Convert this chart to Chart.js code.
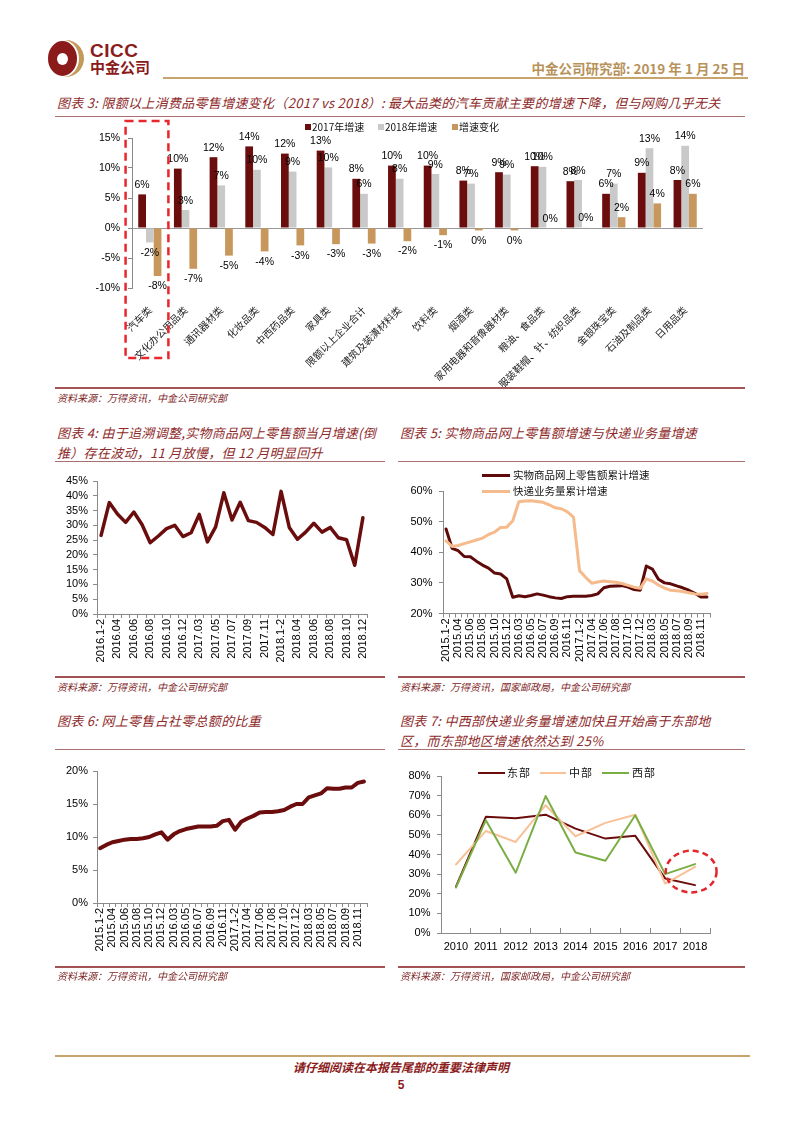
<!DOCTYPE html>
<html lang="zh-CN">
<head>
<meta charset="utf-8">
<title>中金公司研究部</title>
<script src="https://cdn.jsdelivr.net/npm/chart.js@4.4.1/dist/chart.umd.min.js"></script>
<style>
html,body{margin:0;padding:0;background:#fff;}
#page{position:relative;width:802px;height:1133px;overflow:hidden;background:#fff;font-family:"Noto Sans CJK SC","Liberation Sans",sans-serif;}
.t{position:absolute;white-space:nowrap;}
.title{color:#8e2a2a;font-style:italic;font-size:13px;line-height:20px;letter-spacing:0.3px;}
.src{color:#7d2424;font-style:italic;font-size:10px;line-height:14px;}
.rule{position:absolute;height:0;border-top:1px solid #a87070;}
.srule{position:absolute;height:0;border-top:2px solid #a35353;}
canvas{position:absolute;}
.leg{position:absolute;white-space:nowrap;color:#111;}
</style>
</head>
<body>
<div id="page">
  <!-- header -->
  <div class="t" style="left:48px;top:40px;width:36px;height:37px;border-radius:50%;background:#c49a5b;"></div>
  <div class="t" style="left:48px;top:40px;width:31px;height:37px;border-radius:50%;background:#fff;"></div>
  <div class="t" style="left:48px;top:41px;width:29px;height:35px;border-radius:50%;background:#8b1b1b;"></div>
  <div class="t" style="left:57px;top:53px;width:11px;height:12px;border-radius:50%;background:#fff;"></div>
  <div class="t" style="left:90px;top:40px;font:bold 19px 'Liberation Sans',sans-serif;color:#8b1b1b;letter-spacing:0.5px;">CICC</div>
  <div class="t" style="left:90px;top:58px;font-weight:bold;font-size:15px;line-height:18px;color:#8b1b1b;">中金公司</div>
  <div class="t" style="right:57px;top:59px;font-weight:bold;font-size:13.5px;line-height:18px;color:#b8925a;">中金公司研究部: 2019 年 1 月 25 日</div>
  <div class="t" style="left:163px;top:77px;width:585px;height:2px;background:#c8a46e;"></div>

  <!-- chart 3 -->
  <div class="t title" style="left:57px;top:93px;">图表 3: 限额以上消费品零售增速变化（2017 vs 2018）: 最大品类的汽车贡献主要的增速下降，但与网购几乎无关</div>
  <div class="rule" style="left:55px;top:116px;width:690px;"></div>
  <canvas id="c3" width="690" height="270" style="left:55px;top:117px;"></canvas>
  <div id="leg3"></div>
  <div class="srule" style="left:55px;top:387px;width:690px;"></div>
  <div class="t src" style="left:57px;top:391px;">资料来源：万得资讯，中金公司研究部</div>

  <!-- chart 4 -->
  <div class="t title" style="left:57px;top:423px;">图表 4: 由于追溯调整,实物商品网上零售额当月增速(倒<br>推）存在波动，11 月放慢，但 12 月明显回升</div>
  <div class="rule" style="left:55px;top:461px;width:330px;"></div>
  <canvas id="c4" width="330" height="210" style="left:55px;top:465px;"></canvas>
  <div class="srule" style="left:55px;top:676px;width:330px;"></div>
  <div class="t src" style="left:57px;top:680px;">资料来源：万得资讯，中金公司研究部</div>

  <!-- chart 5 -->
  <div class="t title" style="left:400px;top:423px;">图表 5: 实物商品网上零售额增速与快递业务量增速</div>
  <div class="rule" style="left:398px;top:461px;width:347px;"></div>
  <canvas id="c5" width="340" height="210" style="left:395px;top:465px;"></canvas>
  <div id="leg5"></div>
  <div class="srule" style="left:398px;top:676px;width:347px;"></div>
  <div class="t src" style="left:400px;top:680px;">资料来源：万得资讯，国家邮政局，中金公司研究部</div>

  <!-- chart 6 -->
  <div class="t title" style="left:57px;top:711px;">图表 6: 网上零售占社零总额的比重</div>
  <div class="rule" style="left:55px;top:749px;width:330px;"></div>
  <canvas id="c6" width="330" height="215" style="left:55px;top:752px;"></canvas>
  <div class="srule" style="left:55px;top:966px;width:330px;"></div>
  <div class="t src" style="left:57px;top:969px;">资料来源：万得资讯，中金公司研究部</div>

  <!-- chart 7 -->
  <div class="t title" style="left:400px;top:711px;">图表 7: 中西部快递业务量增速加快且开始高于东部地<br>区，而东部地区增速依然达到 25%</div>
  <div class="rule" style="left:398px;top:749px;width:347px;"></div>
  <canvas id="c7" width="340" height="215" style="left:395px;top:752px;"></canvas>
  <div id="leg7"></div>
  <div class="srule" style="left:398px;top:966px;width:347px;"></div>
  <div class="t src" style="left:400px;top:969px;">资料来源：万得资讯，国家邮政局，中金公司研究部</div>

  <!-- footer -->
  <div class="t" style="left:55px;top:1055px;width:695px;height:2px;background:#c8a46e;"></div>
  <div class="t" style="left:0;width:802px;top:1059px;text-align:center;font-weight:bold;font-style:italic;font-size:12px;line-height:16px;color:#8b1b1b;">请仔细阅读在本报告尾部的重要法律声明</div>
  <div class="t" style="left:0;width:802px;top:1078px;text-align:center;font:bold 12px 'Liberation Sans',sans-serif;color:#8b1b1b;">5</div>
</div>

<script>
// ---------------- data ----------------
const cat3 = ['汽车类','文化办公用品类','通讯器材类','化妆品类','中西药品类','家具类','限额以上企业合计','建筑及装潢材料类','饮料类','烟酒类','家用电器和音像器材类','粮油、食品类','服装鞋帽、针、纺织品类','金银珠宝类','石油及制品类','日用品类'];
const growth2017   = [5.6, 9.9, 11.8, 13.6, 12.4, 12.9, 8.2, 10.4, 10.4, 7.9, 9.3, 10.3, 7.8, 5.7, 9.2, 8.0];
const growth2018   = [-2.4, 3.0, 7.1, 9.7, 9.4, 10.1, 5.7, 8.2, 9.0, 7.4, 8.9, 10.2, 8.0, 7.4, 13.3, 13.7];
const growthChange = [-8.0, -6.8, -4.6, -3.9, -2.9, -2.7, -2.6, -2.2, -1.2, -0.4, -0.4, 0.0, 0.1, 1.8, 4.1, 5.7];
const series3 = ['2017年增速','2018年增速','增速变化'];

const months4 = ['2016.1-2','2016.03','2016.04','2016.05','2016.06','2016.07','2016.08','2016.09','2016.10','2016.11','2016.12',
                 '2017.1-2','2017.03','2017.04','2017.05','2017.06','2017.07','2017.08','2017.09','2017.10','2017.11','2017.12',
                 '2018.1-2','2018.03','2018.04','2018.05','2018.06','2018.07','2018.08','2018.09','2018.10','2018.11','2018.12'];
const onlineMonthly4 = [26.6, 37.7, 33.8, 31.0, 34.5, 30.3, 24.1, 26.4, 28.9, 30.0, 26.2,
                        27.5, 33.7, 24.4, 29.5, 41.0, 31.8, 37.8, 31.6, 31.0, 29.3, 26.9,
                        41.5, 29.3, 25.3, 27.7, 30.7, 27.7, 29.3, 25.8, 25.1, 16.5, 32.6];
const series4 = '实物商品网上零售额当月增速';

const months5 = ['2015.1-2','2015.03','2015.04','2015.05','2015.06','2015.07','2015.08','2015.09','2015.10','2015.11','2015.12',
                 '2016.1-2','2016.03','2016.04','2016.05','2016.06','2016.07','2016.08','2016.09','2016.10','2016.11','2016.12',
                 '2017.1-2','2017.03','2017.04','2017.05','2017.06','2017.07','2017.08','2017.09','2017.10','2017.11','2017.12',
                 '2018.1-2','2018.03','2018.04','2018.05','2018.06','2018.07','2018.08','2018.09','2018.10','2018.11','2018.12'];
const onlineCum5  = [47.6, 41.3, 40.5, 38.6, 38.5, 37.1, 35.8, 34.8, 33.2, 32.9, 31.3,
                     25.3, 25.8, 25.5, 25.9, 26.4, 26.0, 25.5, 25.1, 24.9, 25.5, 25.6,
                     25.6, 25.6, 25.9, 26.4, 28.4, 28.9, 29.0, 29.1, 28.6, 27.8, 27.6,
                     35.5, 34.5, 31.2, 30.0, 29.7, 29.0, 28.4, 27.6, 26.6, 25.4, 25.4];
const expressCum5 = [43.7, 41.9, 42.2, 42.8, 43.4, 44.0, 44.6, 45.8, 46.6, 48.1, 48.2,
                     50.3, 56.5, 56.7, 56.8, 56.6, 56.3, 55.5, 54.5, 54.2, 53.2, 51.5,
                     34.0, 31.8, 29.9, 30.3, 30.6, 30.4, 30.2, 29.8, 29.2, 28.6, 28.2,
                     31.3, 30.6, 29.3, 28.3, 27.6, 27.4, 27.2, 26.8, 26.4, 26.3, 26.5];
const series5 = ['实物商品网上零售额累计增速','快递业务量累计增速'];

const onlineShare6 = [8.3, 8.8, 9.2, 9.4, 9.6, 9.7, 9.7, 9.8, 10.0, 10.4, 10.7,
                      9.6, 10.4, 10.9, 11.2, 11.4, 11.6, 11.6, 11.6, 11.7, 12.4, 12.6,
                      11.1, 12.3, 12.8, 13.2, 13.7, 13.8, 13.8, 13.9, 14.1, 14.6, 15.0,
                      15.0, 16.0, 16.3, 16.6, 17.4, 17.3, 17.3, 17.5, 17.5, 18.2, 18.4];
const series6 = '网上零售占社零总额的比重';

const years7   = ['2010','2011','2012','2013','2014','2015','2016','2017','2018'];
const east7    = [23.6, 59.2, 58.5, 60.3, 53.2, 48.1, 49.5, 27.8, 24.4];
const central7 = [34.9, 52.0, 46.4, 65.1, 49.3, 56.1, 60.3, 25.2, 33.7];
const west7    = [23.2, 57.5, 30.7, 69.8, 41.0, 36.8, 60.0, 30.0, 35.1];
const series7  = ['东部','中部','西部'];

// ---------------- styles ----------------
const C_DARK = '#6b0d0d', C_GRAY = '#c9c9c9', C_TAN = '#c8975c', C_PEACH = '#f6bb8c', C_GREEN = '#7aae45';
const AXIS = '#8a8a8a';

Chart.defaults.font.family = '"Liberation Sans","Noto Sans CJK SC",sans-serif';
Chart.defaults.color = '#000';
Chart.defaults.animation = false;
Chart.defaults.responsive = false;
Chart.defaults.plugins.legend.display = false;
Chart.defaults.plugins.tooltip.enabled = false;

// value labels on bars
const barValueLabels = {
  id: 'barValueLabels',
  afterDatasetsDraw(chart) {
    const ctx = chart.ctx;
    ctx.save();
    ctx.font = '10.5px "Liberation Sans", sans-serif';
    ctx.fillStyle = '#000';
    ctx.textAlign = 'center';
    chart.data.datasets.forEach((ds, di) => {
      chart.getDatasetMeta(di).data.forEach((bar, i) => {
        const v = ds.data[i];
        const txt = Math.round(v) + '%';
        if (v >= 0) { ctx.textBaseline = 'bottom'; ctx.fillText(txt, bar.x, bar.y - 4); }
        else { ctx.textBaseline = 'top'; ctx.fillText(txt, bar.x, bar.y + 5); }
      });
    });
    ctx.restore();
  }
};
// dashed box around the first category
const highlightBox = {
  id: 'highlightBox',
  afterDraw(chart) {
    const x = chart.scales.x, y = chart.scales.y, ctx = chart.ctx;
    const c0 = x.getPixelForValue(0), cw = x.getPixelForValue(1) - c0;
    const top = y.getPixelForValue(y.max) - 17, bottom = y.getPixelForValue(y.min) + 70;
    ctx.save();
    ctx.strokeStyle = '#e8262b'; ctx.lineWidth = 2.5; ctx.setLineDash([8, 5]);
    ctx.strokeRect(c0 - 0.68 * cw, top, 1.2 * cw, bottom - top);
    ctx.restore();
  }
};
// dashed ellipse around 2017-2018
const highlightEllipse = {
  id: 'highlightEllipse',
  afterDraw(chart) {
    const x = chart.scales.x, y = chart.scales.y, ctx = chart.ctx;
    const p7 = x.getPixelForValue(7), cw = x.getPixelForValue(8) - p7;
    const cx = p7 + 0.87 * cw, cy = y.getPixelForValue(31.3);
    const rx = 0.85 * cw, ry = y.getPixelForValue(20.7) - cy;
    ctx.save();
    ctx.strokeStyle = '#e3262b'; ctx.lineWidth = 2.5; ctx.setLineDash([6, 4]);
    ctx.beginPath(); ctx.ellipse(cx, cy, rx, ry, 0, 0, Math.PI * 2); ctx.stroke();
    ctx.restore();
  }
};

// ---------------- chart 3 ----------------
new Chart(document.getElementById('c3'), {
  type: 'bar',
  data: {
    labels: cat3,
    datasets: [
      { label: series3[0], data: growth2017, backgroundColor: C_DARK },
      { label: series3[1], data: growth2018, backgroundColor: C_GRAY },
      { label: series3[2], data: growthChange, backgroundColor: C_TAN }
    ]
  },
  options: {
    layout: { padding: { left: 0, right: 42, top: 21, bottom: 0 } },
    datasets: { bar: { categoryPercentage: 0.65, barPercentage: 1.0 } },
    scales: {
      x: {
        grid: { display: false }, border: { display: false },
        ticks: { autoSkip: false, minRotation: 45, maxRotation: 45, padding: 8, color: '#222',
                 font: { size: 10, family: '"Noto Sans CJK SC",sans-serif' } },
        afterFit: s => { s.height = 99; }
      },
      y: {
        min: -10, max: 15,
        ticks: { stepSize: 5, autoSkip: false, callback: v => v + '%', padding: 8, font: { size: 10.5 } },
        grid: { color: c => (c.tick && c.tick.value === 0) ? '#9a9a9a' : 'rgba(0,0,0,0)', tickColor: AXIS, tickLength: 4 },
        border: { display: true, color: AXIS },
        afterFit: s => { s.width = 77; }
      }
    }
  },
  plugins: [barValueLabels, highlightBox]
});

// ---------------- line charts helper ----------------
function lineChart(id, labels, datasets, yMin, yMax, yStep, g, extra) {
  return new Chart(document.getElementById(id), {
    type: 'line',
    data: {
      labels: labels,
      datasets: datasets.map(d => Object.assign({ pointRadius: 0, tension: 0, fill: false,
        borderJoinStyle: 'round', borderCapStyle: 'round' }, d))
    },
    options: {
      layout: { padding: { left: 0, top: g.top, right: g.right, bottom: 0 } },
      scales: {
        x: {
          offset: true,
          grid: { offset: true, drawOnChartArea: false, tickLength: g.xTick, color: AXIS },
          border: { color: AXIS },
          ticks: { autoSkip: false, minRotation: g.rot, maxRotation: g.rot, padding: g.xPad,
                   font: { size: 11 }, color: '#000',
                   callback: (v, i) => (i % g.every === 0 ? labels[i] : '') },
          afterFit: s => { s.height = g.xH; }
        },
        y: {
          min: yMin, max: yMax,
          ticks: { stepSize: yStep, autoSkip: false, callback: v => v + '%', font: { size: 11 }, color: '#000', padding: g.yPad },
          grid: { drawOnChartArea: false, tickLength: 4, color: AXIS },
          border: { color: AXIS },
          afterFit: s => { s.width = g.yW; }
        }
      }
    },
    plugins: extra || []
  });
}

// chart 4
lineChart('c4', months4, [
  { label: series4, data: onlineMonthly4, borderColor: C_DARK, borderWidth: 3.5 }
], 0, 45, 5, { top: 16, right: 18, xH: 61, yW: 42, yPad: 5, rot: 90, xTick: 4, xPad: 1, every: 2 });

// chart 5
lineChart('c5', months5, [
  { label: series5[0], data: onlineCum5, borderColor: '#5e0a0a', borderWidth: 3, order: 2 },
  { label: series5[1], data: expressCum5, borderColor: C_PEACH, borderWidth: 3, order: 1 }
], 20, 60, 10, { top: 26, right: 25, xH: 61.5, yW: 48, yPad: 6.5, rot: 90, xTick: 4, xPad: 1, every: 2 });

// chart 6
lineChart('c6', months5, [
  { label: series6, data: onlineShare6, borderColor: C_DARK, borderWidth: 4 }
], 0, 20, 5, { top: 19, right: 18, xH: 64, yW: 42, yPad: 5, rot: 90, xTick: 4, xPad: 1, every: 2 });

// chart 7
lineChart('c7', years7, [
  { label: series7[0], data: east7, borderColor: C_DARK, borderWidth: 2, order: 3 },
  { label: series7[1], data: central7, borderColor: '#f8c197', borderWidth: 2, order: 2 },
  { label: series7[2], data: west7, borderColor: C_GREEN, borderWidth: 2, order: 1 }
], 0, 80, 10, { top: 24, right: 25, xH: 34, yW: 46, yPad: 6.5, rot: 0, xTick: -5, xPad: 12, every: 1 }, [highlightEllipse]);

// ---------------- HTML legends ----------------
function addLegend(host, items) {
  const el = document.getElementById(host);
  items.forEach(it => {
    const mark = document.createElement('div');
    mark.className = 'leg';
    mark.style.cssText = `left:${it.mx}px;top:${it.my}px;width:${it.mw}px;height:${it.mh}px;background:${it.color};`;
    el.appendChild(mark);
    const tx = document.createElement('div');
    tx.className = 'leg';
    tx.style.cssText = `left:${it.tx}px;top:${it.ty}px;font-size:${it.fs}px;line-height:${it.fs + 4}px;letter-spacing:${it.ls || 0}px;`;
    tx.textContent = it.text;
    el.appendChild(tx);
  });
}
addLegend('leg3', [
  { text: series3[0], color: C_DARK, mx: 305, my: 124, mw: 6, mh: 6, tx: 312, ty: 120, fs: 10 },
  { text: series3[1], color: C_GRAY, mx: 378, my: 124, mw: 6, mh: 6, tx: 385, ty: 120, fs: 10 },
  { text: series3[2], color: C_TAN,  mx: 452, my: 124, mw: 6, mh: 6, tx: 459, ty: 120, fs: 10 }
]);
addLegend('leg5', [
  { text: series5[0], color: '#5e0a0a', mx: 482, my: 474, mw: 28, mh: 3, tx: 513, ty: 468, fs: 10.5 },
  { text: series5[1], color: C_PEACH,   mx: 482, my: 489.5, mw: 28, mh: 3, tx: 513, ty: 483.5, fs: 10.5 }
]);
addLegend('leg7', [
  { text: series7[0], color: C_DARK,    mx: 478, my: 772, mw: 27, mh: 2, tx: 507, ty: 765, fs: 11, ls: 1 },
  { text: series7[1], color: '#f8c197', mx: 540, my: 772, mw: 26, mh: 2, tx: 569, ty: 765, fs: 11, ls: 1 },
  { text: series7[2], color: C_GREEN,   mx: 602, my: 772, mw: 27, mh: 2, tx: 632, ty: 765, fs: 11, ls: 1 }
]);
</script>
</body>
</html>
